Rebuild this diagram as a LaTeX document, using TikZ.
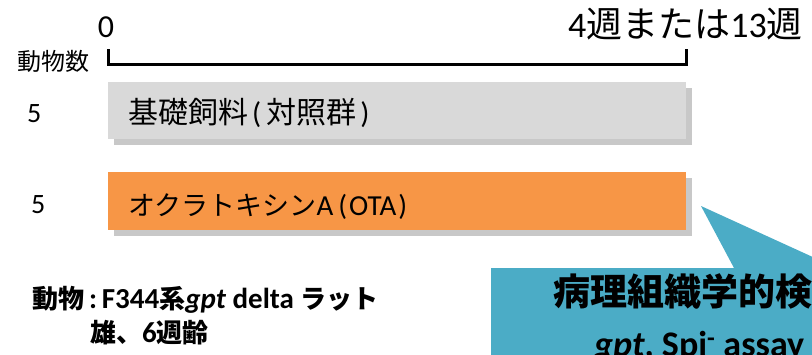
\documentclass[tikz,border=0pt]{standalone}
\usepackage{fontspec}
\setmainfont{Carlito}
\newfontfamily\jp{Noto Sans CJK JP}
\usetikzlibrary{shadows}
\definecolor{bargray}{HTML}{D9D9D9}
\definecolor{shgray}{HTML}{C8C8C8}
\definecolor{barorange}{HTML}{F79646}
\definecolor{callblue}{HTML}{4BACC6}
\newcommand{\fs}[1]{\fontsize{#1}{#1}\selectfont}
\begin{document}
\begin{tikzpicture}[x=1pt,y=-1pt,
  lab/.style={inner sep=0pt, anchor=base west},
  bar/.style={minimum width=578pt, inner sep=0pt, anchor=north west,
    drop shadow={shadow xshift=6pt,shadow yshift=-6pt,opacity=1,fill=shgray}},
  axis/.style={line width=3pt, miter limit=10}
]
\useasboundingbox (0,0) rectangle (812,354);
\clip (0,0) rectangle (812,354);

% axis
\node[lab, anchor=base, font=\fs{32}] (zero) at (106,37) {0};
\node[lab, font=\fs{36}] (end) at (568,37) {4{\jp 週または}13{\jp 週}};
\node[lab, font=\jp\fs{24}] (count) at (17,70) {動物数};
\coordinate (t0top) at (108,49);
\coordinate (t0) at (108,64);
\coordinate (t1) at (686,64);
\coordinate (t1top) at (686,49);
\draw[axis] (t0top) -- (t0) -- (t1) -- (t1top);

% bars
\node[bar, fill=bargray, minimum height=57pt] (ctrl) at (108,82) {};
\node[lab, font=\fs{30}] (ctrltxt) at (128,123)
  {{\jp 基礎飼料}\hspace{4pt}(\hspace{5pt}{\jp 対照群}\hspace{4pt})};
\node[lab, font=\fs{28}] (n1) at (27,122) {5};

\node[bar, fill=barorange, minimum height=58pt] (ota) at (108,172) {};
\node[lab, font=\fs{29}] (otatxt) at (128,215)
  {{\jp\fs{27}オクラトキシン}A\hspace{5pt}(\hspace{2pt}OTA\hspace{2pt})};
\node[lab, font=\fs{28}] (n2) at (31,213) {5};

% animal info
\node[lab, font=\bfseries\fs{29}] (animal) at (32,308)
  {{\jp\fs{26}動物}\,:\,F344{\jp\fs{26}系}\textit{gpt} delta {\jp\fs{26}ラット}};
\node[lab, font=\bfseries\fs{29}] (sex) at (90,342)
  {{\jp\fs{26}雄、}6{\jp\fs{26}週齢}};

% callout
\fill[callblue] (491,268) -- (734,268) -- (701,206) -- (850,274) -- (850,400) -- (491,400) -- cycle;
\node[lab, font=\jp\bfseries\fs{37}] (path) at (553,305) {病理組織学的検};
\node[lab, font=\bfseries\fs{36}] (assay) at (594,356)
  {\textit{gpt}, Spi\textsuperscript{-} assay};
\end{tikzpicture}
\end{document}
